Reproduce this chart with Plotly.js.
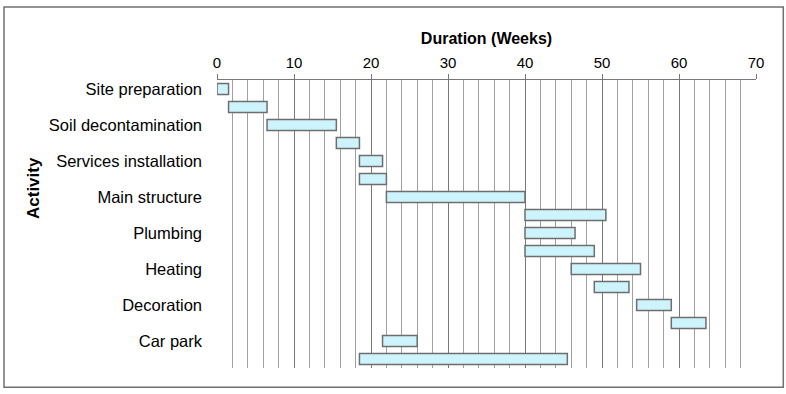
<!DOCTYPE html>
<html>
<head>
<meta charset="utf-8">
<script src="https://cdn.plot.ly/plotly-3.0.1.min.js"></script>
<style>
  html, body { margin: 0; padding: 0; background: #ffffff; }
  #chart { width: 786px; height: 394px; }
</style>
</head>
<body>
<div id="chart"></div>
<script>
// Rows (top to bottom) of the Gantt chart
var rowIds = [1, 2, 3, 4, 5, 6, 7, 8, 9, 10, 11, 12, 13, 14, 15, 16];
// Start week of each task
var startWeeks = [0, 1.5, 6.5, 15.5, 18.5, 18.5, 22, 40, 40, 40, 46, 49, 54.5, 59, 21.5, 18.5];
// Duration of each task in weeks
var durationWeeks = [1.5, 5, 9, 3, 3, 3.5, 18, 10.5, 6.5, 9, 9, 4.5, 4.5, 4.5, 4.5, 27];
// Activity labels and the rows they sit on
var labelRows = [1, 3, 5, 7, 9, 11, 13, 15];
var activityLabels = ["Site preparation", "Soil decontamination", "Services installation",
  "Main structure", "Plumbing", "Heating", "Decoration", "Car park"];
// X axis ticks
var xTicks = [0, 10, 20, 30, 40, 50, 60, 70];

var fontFam = "Liberation Sans, Arial, sans-serif";

var trace = {
  type: "bar",
  orientation: "h",
  y: rowIds,
  x: durationWeeks,
  base: startWeeks,
  width: 0.6,
  marker: {
    color: "#cdf4fd",
    line: { color: "#6e6e6e", width: 1.5 }
  },
  hoverinfo: "x+y"
};

var layout = {
  width: 786,
  height: 394,
  margin: { l: 217, r: 30, t: 80, b: 26 },
  paper_bgcolor: "#ffffff",
  plot_bgcolor: "#ffffff",
  showlegend: false,
  font: { family: fontFam, color: "#000000", size: 15 },
  xaxis: {
    side: "top",
    range: [0, 70],
    tickmode: "array",
    tickvals: xTicks,
    ticktext: xTicks.map(String),
    showgrid: true,
    gridcolor: "#787878",
    gridwidth: 1,
    zeroline: false,
    showline: true,
    linecolor: "#787878",
    linewidth: 1,
    ticks: "outside",
    ticklen: 5,
    tickcolor: "#787878",
    tickfont: { family: fontFam, size: 15, color: "#000000" },
    minor: { dtick: 2, showgrid: true, gridcolor: "#a0a0a0", gridwidth: 1, ticks: "" },
    title: {
      text: "<b>Duration (Weeks)</b>",
      font: { family: fontFam, size: 16, color: "#000000" },
      standoff: 5
    },
    fixedrange: true
  },
  yaxis: {
    range: [16.5, 0.5],
    tickmode: "array",
    tickvals: labelRows,
    ticktext: activityLabels,
    showgrid: false,
    zeroline: false,
    showline: false,
    ticks: "",
    ticklabelstandoff: 14,
    tickfont: { family: fontFam, size: 16.5, color: "#000000" },
    fixedrange: true
  },
  annotations: [{
    text: "<b>Activity</b>",
    textangle: -90,
    xref: "paper", yref: "paper",
    x: (33 - 217) / 539, y: (368 - 188) / 288,
    xanchor: "center", yanchor: "middle",
    showarrow: false,
    font: { family: fontFam, size: 17, color: "#000000" }
  }],
  shapes: [{
    type: "rect",
    xref: "paper", yref: "paper",
    x0: (4 - 217) / 539, x1: (783.3 - 217) / 539,
    y0: (368 - 387.3) / 288, y1: (368 - 7) / 288,
    line: { color: "#707070", width: 1.5 },
    fillcolor: "rgba(0,0,0,0)",
    layer: "above"
  }]
};

Plotly.newPlot("chart", [trace], layout, { displayModeBar: false, staticPlot: true });
</script>
</body>
</html>
